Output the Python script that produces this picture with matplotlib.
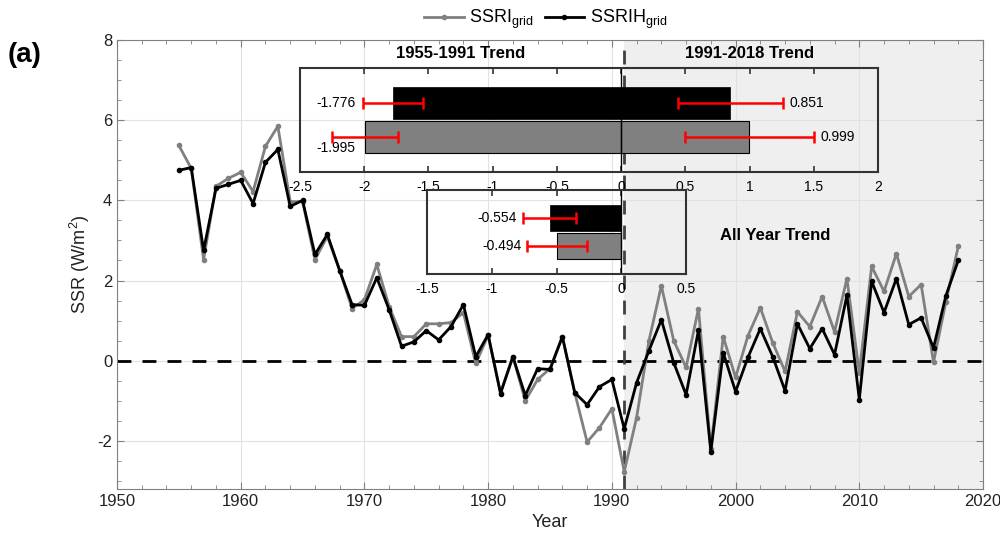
import numpy as np
import matplotlib
matplotlib.use('Agg')
import matplotlib.pyplot as plt
from matplotlib.ticker import MultipleLocator

plt.rcParams['font.family'] = ['Liberation Sans', 'DejaVu Sans']
plt.rcParams['axes.unicode_minus'] = False

years = np.arange(1955, 2019)

ssri = [5.37, 4.80, 2.52, 4.35, 4.55, 4.70, 4.22, 5.35, 5.85, 3.97,
        3.97, 2.52, 3.10, 2.25, 1.30, 1.52, 2.40, 1.35, 0.60, 0.60,
        0.92, 0.92, 0.95, 1.20, -0.07, 0.63, -0.80, 0.10, -1.00, -0.47,
        -0.20, 0.60, -0.80, -2.03, -1.67, -1.20, -2.77, -1.42, 0.50, 1.87,
        0.50, -0.17, 1.30, -2.20, 0.60, -0.42, 0.62, 1.32, 0.45, -0.27,
        1.22, 0.85, 1.60, 0.72, 2.05, -0.30, 2.35, 1.73, 2.67, 1.60,
        1.90, -0.04, 1.47, 2.85]

ssrih = [4.75, 4.82, 2.75, 4.30, 4.40, 4.50, 3.92, 4.95, 5.27, 3.85,
         4.00, 2.65, 3.15, 2.25, 1.40, 1.38, 2.07, 1.27, 0.36, 0.47,
         0.75, 0.52, 0.85, 1.40, 0.10, 0.65, -0.82, 0.10, -0.87, -0.20,
         -0.22, 0.60, -0.80, -1.10, -0.65, -0.47, -1.70, -0.55, 0.25, 1.02,
         -0.05, -0.85, 0.76, -2.27, 0.20, -0.77, 0.08, 0.80, 0.10, -0.75,
         0.92, 0.30, 0.80, 0.15, 1.63, -0.97, 1.98, 1.20, 2.05, 0.90,
         1.07, 0.32, 1.62, 2.50]

# trends: [1955-1991, 1991-2018], error half-widths
trend_ssrih = [-1.776, 0.851]
trend_ssrih_err = [0.23, 0.41]
trend_ssri = [-1.995, 0.999]
trend_ssri_err = [0.255, 0.50]
# all-year trends
all_ssrih, all_ssrih_err = -0.554, 0.205
all_ssri, all_ssri_err = -0.494, 0.23

split_year = 1991

fig = plt.figure(figsize=(10, 5.42), dpi=100)
ax = fig.add_axes([0.117, 0.098, 0.866, 0.828])

ax.axvspan(split_year, 2020, color='#efefef', zorder=0.2, lw=0)
ax.set_axisbelow(True)
ax.grid(which='major', color='#e2e2e2', lw=0.8)

ax.plot(years, ssri, color='#808080', lw=2, marker='o', ms=3,
        label='SSRI$\\mathregular{_{grid}}$', zorder=3)
ax.plot(years, ssrih, color='black', lw=2, marker='o', ms=3,
        label='SSRIH$\\mathregular{_{grid}}$', zorder=4)
ax.axhline(0, color='black', lw=2, ls=(0, (5, 4)), zorder=2)
ax.axvline(split_year, color='#404040', lw=2, ls=(0, (5, 4)), zorder=2)

ax.set_xlim(1950, 2020)
ax.set_ylim(-3.2, 8)
ax.xaxis.set_major_locator(MultipleLocator(10))
ax.xaxis.set_minor_locator(MultipleLocator(2))
ax.yaxis.set_major_locator(MultipleLocator(2))
ax.yaxis.set_minor_locator(MultipleLocator(0.5))
ax.tick_params(which='both', direction='in', top=True, right=True, color='#808080',
               labelsize=12, labelcolor='#222222')
ax.tick_params(which='major', length=5)
ax.tick_params(which='minor', length=3)
for s in ax.spines.values():
    s.set_color('#808080')
ax.set_xlabel('Year', fontsize=13, color='#222222')
ax.set_ylabel('SSR (W/m$\\mathregular{^2}$)', fontsize=13, color='#222222')

ax.legend(loc='lower center', bbox_to_anchor=(0.495, 1.0), ncol=2, frameon=False,
          fontsize=13, handlelength=2.2, columnspacing=0.6, handletextpad=0.3,
          borderaxespad=0.1)

fig.text(0.008, 0.898, '(a)', fontsize=20, fontweight='bold', va='center')


def style_inset(a, xlim, step):
    a.set_facecolor('none')
    a.set_xlim(*xlim)
    a.set_ylim(0, 3)
    a.set_yticks([])
    a.xaxis.set_major_locator(MultipleLocator(step))
    a.tick_params(axis='x', direction='in', top=True, bottom=True, length=4,
                  width=1.2, color='#333333', labelsize=10, pad=6)
    for s in a.spines.values():
        s.set_color('#333333')
        s.set_linewidth(1.5)
    a.axvline(0, color='black', lw=1)
    a.xaxis.set_major_formatter(plt.FuncFormatter(lambda v, p: ('%g' % v)))


# inset 1: period trends
ax1 = fig.add_axes([0.300, 0.6827, 0.578, 0.1919])
style_inset(ax1, (-2.5, 2), 0.5)
ax1.barh([2, 2], trend_ssrih, height=0.92, color='black', edgecolor='black', lw=0.5)
ax1.barh([1, 1], trend_ssri, height=0.92, color='#808080', edgecolor='black', lw=0.8)
ax1.errorbar(trend_ssrih, [2, 2], xerr=trend_ssrih_err, fmt='none', ecolor='red',
             elinewidth=1.8, capsize=4, capthick=1.8, zorder=5)
ax1.errorbar(trend_ssri, [1, 1], xerr=trend_ssri_err, fmt='none', ecolor='red',
             elinewidth=1.8, capsize=4, capthick=1.8, zorder=5)
ax1.text(trend_ssrih[0] - trend_ssrih_err[0] - 0.06, 2, '%.3f' % trend_ssrih[0],
         ha='right', va='center', fontsize=10)
ax1.text(trend_ssrih[0] - trend_ssrih_err[0] - 0.06, 0.7, '%.3f' % trend_ssri[0],
         ha='right', va='center', fontsize=10)
ax1.text(trend_ssrih[1] + trend_ssrih_err[1] + 0.05, 2, '%.3f' % trend_ssrih[1],
         ha='left', va='center', fontsize=10)
ax1.text(trend_ssri[1] + trend_ssri_err[1] + 0.05, 1, '%.3f' % trend_ssri[1],
         ha='left', va='center', fontsize=10)
ax1.text(-1.25, 1.135, '1955-1991 Trend', transform=ax1.get_xaxis_transform(),
         ha='center', va='center', fontsize=12, fontweight='bold')
ax1.text(1.0, 1.135, '1991-2018 Trend', transform=ax1.get_xaxis_transform(),
         ha='center', va='center', fontsize=12, fontweight='bold')

# inset 2: all-year trend
ax2 = fig.add_axes([0.427, 0.4945, 0.259, 0.155])
style_inset(ax2, (-1.5, 0.5), 0.5)
ax2.barh([2], [all_ssrih], height=0.95, color='black', edgecolor='black', lw=0.5)
ax2.barh([1], [all_ssri], height=0.95, color='#808080', edgecolor='black', lw=0.8)
ax2.errorbar([all_ssrih], [2], xerr=[all_ssrih_err], fmt='none', ecolor='red',
             elinewidth=1.8, capsize=4, capthick=1.8, zorder=5)
ax2.errorbar([all_ssri], [1], xerr=[all_ssri_err], fmt='none', ecolor='red',
             elinewidth=1.8, capsize=4, capthick=1.8, zorder=5)
ax2.text(all_ssrih - all_ssrih_err - 0.045, 2, '%.3f' % all_ssrih,
         ha='right', va='center', fontsize=10)
ax2.text(all_ssri - all_ssri_err - 0.045, 1, '%.3f' % all_ssri,
         ha='right', va='center', fontsize=10)
fig.text(0.775, 0.566, 'All Year Trend', ha='center', va='center',
         fontsize=12, fontweight='bold')

fig.savefig('out.png', dpi=100)
